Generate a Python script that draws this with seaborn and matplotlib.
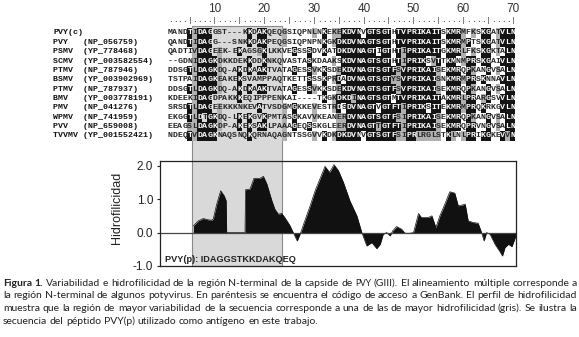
import numpy as np
import pandas as pd
import matplotlib
matplotlib.use('Agg')
import matplotlib.pyplot as plt
import seaborn as sns
from matplotlib.colors import ListedColormap
from matplotlib.patches import Rectangle
from matplotlib.transforms import blended_transform_factory

# ---------------- datos del alineamiento ----------------
nombres = ['PVY(c)', 'PVY', 'PSMV', 'SCMV', 'PTMV', 'BSMV', 'PTMV', 'BMV', 'PMV', 'WPMV', 'PVV', 'TVVMV']
accesos = ['', '(NP_056759)', '(YP_778468)', '(YP_003582554)', '(NP_787946)', '(YP_003902969)',
           '(NP_787937)', '(YP_003778191)', '(NP_041276)', '(NP_741959)', '(NP_659008)', '(YP_001552421)']
secuencias = [
    'MANDTIDAGGST---KKDAKQEQGSIQPNLNKEKEKDVNVGTSGTHTVPRIKAITSKMRMFKSKGATVLN',
    'QANDTIDAGG---SNKKDAKPEQGSIQPNPNKGKDKDVNAGTSGTHTVPRIKAITSKMRMPTSKGATVLN',
    'QADTIVDAGEEK-EKAGSGKLKKVEGSSSDVKATDKDVNAGTIGTHTIPRIKAITGKMRLFKSKGKTALN',
    '--GDNIDAGKDKKDEKKDDKNKQVASTASKDAAKSKDVNAGTSGTHTIPRIKSVTTKMNMPRSKGAIVLN',
    'DDSGTLDAGKDQ-AKDKAAKTVATAGESSVKKSDEKDVNAGTSGTFSVPRIKAISEKMRQPKANGVSALN',
    'TSTPAIDAGKEAKEKSVAMPPAQTKETTSSSKPRDADVNAGTSGTYSVPRIKAISNKMRMPRSKNNAVLN',
    'DDSGTLDAGKDQ-AKDKAAKTVATAGESSVKKSDEKDVNAGTSGTFSVPRIKAISEKMRQPKANGVSALN',
    'KDEEKIDAGDPAKKKEQIPPPENKAI----TKGKDKDINAGTSGTMTVPRIKAITAKMRLPRARGSVVLN',
    'SRSDTLDAGEEKKKNKEVATVSDGMGKKEVESTRDSDVNAGTVGTFTIPRIKSITEKMRMPRQKRKGVLN',
    'EKGGTLDTGKDQ-LKEKGVKPMTASGKAVVKEANERDVNAGTSGTFSIPRIKAISEKMRQPKANGVSALN',
    'EEAGSLDAGKDP-AKEKSAKLPAAAGEQSSKGLEERDVNAGTTGTFTIPRIKAISEKMRQPRVNGVSALN',
    'NDEQTVDAGKNAQSNQKQRNAQAGNTSSGVVKDKDKDVNVGTSGTFSIPRLRGLSTKLNLPRIKGKEVVN',
]
regla_numeros = [10, 20, 30, 40, 50, 60, 70]
peptido = 'PVY(p): IDAGGSTKKDAKQEQ'

# ---------------- perfil de hidrofilicidad ----------------
posicion = [5.7, 6.7, 7.7, 8.7, 9.4, 9.7, 10.4, 11.2, 11.9, 12.3, 12.4, 16.1, 16.2, 17.1, 17.9, 19.1,
            19.8, 20.5, 21.5, 22.1, 22.8, 23.5, 24.1, 25.1, 25.8, 26.6, 27.3, 28.0, 29.2, 30.2, 31.3,
            32.2, 33.1, 34.0, 34.9, 35.9, 37.2, 38.6, 39.6, 40.6, 41.6, 42.6, 43.3, 43.9, 44.6, 45.3,
            45.8, 46.6, 47.6, 48.3, 49.3, 50.0, 51.0, 51.6, 53.0, 53.7, 54.5, 55.3, 56.3, 57.3, 58.3,
            59.0, 59.7, 60.4, 61.0, 62.0, 63.0, 63.7, 64.2, 64.7, 65.4, 66.4, 67.3, 67.9, 68.4, 69.1,
            69.8, 70.6]
hidrofilicidad = [0.2, 0.35, 0.42, 0.38, 0.37, 0.4, 0.85, 1.25, 1.1, 0.95, 0.0, 0.0, 1.28, 1.3, 1.62, 1.62,
                  1.68, 1.45, 0.95, 0.7, 0.55, 0.57, 0.45, 0.22, 0.0, -0.25, 0.0, 0.3, 0.8, 1.25, 1.65,
                  1.98, 1.8, 2.03, 1.85, 1.5, 0.95, 0.5, 0.0, -0.4, -0.3, -0.48, -0.35, -0.05, 0.0, -0.1,
                  0.05, 0.18, 0.1, -0.02, -0.02, 0.0, 0.57, 0.45, 0.45, 0.5, 0.15, 0.5, 0.85, 1.22, 1.18,
                  0.8, 0.82, 0.85, 0.35, 0.3, 0.28, 0.0, -0.25, 0.0, -0.05, -0.35, -0.55, -0.7, -0.45, -0.35,
                  -0.42, -0.1]

lineas_caption = [
    'Figura 1. Variabilidad e hidrofilicidad de la región N-terminal de la capside de PVY (GIII). El alineamiento múltiple corresponde a',
    'la región N-terminal de algunos potyvirus. En paréntesis se encuentra el código de acceso a GenBank. El perfil de hidrofilicidad',
    'muestra que la región de mayor variabilidad de la secuencia corresponde a una de las de mayor hidrofilicidad (gris). Se ilustra la',
    'secuencia del péptido PVY(p) utilizado como antígeno en este trabajo.',
]

# ---------------- sombreado tipo boxshade ----------------
grupos = ['ILVM', 'FYW', 'KRH', 'DE', 'ST', 'NQ', 'AG']


def similares(a, b):
    return any(a in g and b in g for g in grupos)


mat = np.array([list(s) for s in secuencias])
nfil, ncol = mat.shape
sombra = np.zeros((nfil, ncol), dtype=float)
umbral = nfil / 2
for j in range(ncol):
    col = [r for r in mat[:, j] if r != '-']
    if not col:
        continue
    cuenta = pd.Series(col).value_counts()
    cons, n = cuenta.index[0], cuenta.iloc[0]
    if n >= umbral:
        for i in range(nfil):
            if mat[i, j] == cons:
                sombra[i, j] = 2
            elif similares(mat[i, j], cons):
                sombra[i, j] = 1
    else:
        for g in grupos:
            if sum(r in g for r in col) >= umbral:
                for i in range(nfil):
                    if mat[i, j] in g:
                        sombra[i, j] = 1

# ---------------- figura ----------------
W, H = 579, 337
sns.set_style('ticks')
plt.rcParams['font.family'] = ['Liberation Sans', 'DejaVu Sans']
fig = plt.figure(figsize=(W / 100, H / 100), dpi=100)


def caja(x0, y0, x1, y1):
    return [x0 / W, 1 - y1 / H, (x1 - x0) / W, (y1 - y0) / H]


# alineamiento
ax_al = fig.add_axes(caja(167.5, 28.3, 515.4, 140.6))
cmap = ListedColormap([(1, 1, 1, 0), '#b0b0b0', '#141414'])
sns.heatmap(sombra, cmap=cmap, vmin=-0.5, vmax=2.5, cbar=False, annot=mat, fmt='',
            annot_kws={'family': 'Liberation Mono', 'fontsize': 5.96, 'fontweight': 'bold'},
            xticklabels=False, yticklabels=False, ax=ax_al)
ax_al.set_axis_off()

mono = dict(family='Liberation Mono', fontsize=5.96, fontweight='bold', color='#111')
for i, (nom, acc) in enumerate(zip(nombres, accesos)):
    ax_al.text(-23, i + 0.5, f'{nom:<6}{acc}', ha='left', va='center', **mono)

alto_fila = (140.6 - 28.3) / nfil
for j in range(ncol):
    ch = '|' if (j + 1) % 5 == 0 else '.'
    ax_al.text(j + 0.5, (20 - 28.3) / alto_fila, ch, ha='center', va='center',
               family='Liberation Mono', fontsize=5.5, color='#333')
for num in regla_numeros:
    ax_al.text(num - 0.5, (9.5 - 28.3) / alto_fila, str(num), ha='center', va='center',
               fontsize=8.5, color='#333')

# caja gris de la region variable (columnas 6-23)
trans = blended_transform_factory(ax_al.transData, fig.transFigure)
rect = Rectangle((5, 1 - 266 / H), 18, (266 - 26) / H, transform=trans,
                 facecolor='#d9d9d9', edgecolor='#8a8a8a', lw=0.8, zorder=-1)
fig.add_artist(rect)

# perfil de hidrofilicidad
ax_h = fig.add_axes(caja(160, 161, 516, 266), facecolor='none')
ax_h.fill_between(posicion, 0, hidrofilicidad, color='#111111', lw=0)
sns.lineplot(x=posicion, y=hidrofilicidad, color='#111111', lw=0.5, ax=ax_h)
ax_h.axhline(0, color='#444444', lw=0.9)
ax_h.set_xlim(-1.01, 70.62)
ax_h.set_ylim(-1.0, 2.14)
ax_h.set_xticks([])
ax_h.set_yticks([-1, 0, 1, 2])
ax_h.set_yticklabels(['-1.0', '0.0', '1.0', '2.0'], fontsize=8.5, color='#222')
ax_h.tick_params(axis='y', length=2.5, width=0.8, pad=2.5, color='#222')
for s in ax_h.spines.values():
    s.set_linewidth(0.9)
    s.set_color('#222')
ax_h.text((116.7 - 160) / 356, (266 - 208) / 105, 'Hidrofilicidad', rotation=90,
          ha='center', va='center', fontsize=9, color='#222', transform=ax_h.transAxes)
ax_h.text(5 / 356, 6 / 105, peptido, ha='left', va='center', fontsize=6.6,
          fontweight='bold', color='#222', transform=ax_h.transAxes)

# pie de figura justificado
renderer = fig.canvas.get_renderer()
y_base = [286, 298.5, 311, 323.5]
tam = 7.5
for k, (linea, y_px) in enumerate(zip(lineas_caption, y_base)):
    palabras = linea.split(' ')
    textos = []
    for w_i, w in enumerate(palabras):
        negrita = k == 0 and w_i < 2
        fs = tam * 0.82 if (k == 0 and w == 'PVY') else tam
        t = fig.text(0, 1 - y_px / H, w, fontsize=fs, family=['Lato', 'DejaVu Sans'],
                     fontweight='bold' if negrita else 'normal', ha='left', va='baseline', color='#222')
        textos.append(t)
    anchos = [t.get_window_extent(renderer).width for t in textos]
    if k < len(lineas_caption) - 1:
        hueco = (574 - sum(anchos)) / (len(palabras) - 1)
    else:
        hueco = 2.6
    x = 3
    for t, a in zip(textos, anchos):
        t.set_x(x / W)
        x += a + hueco

fig.savefig('out.png', dpi=100)
